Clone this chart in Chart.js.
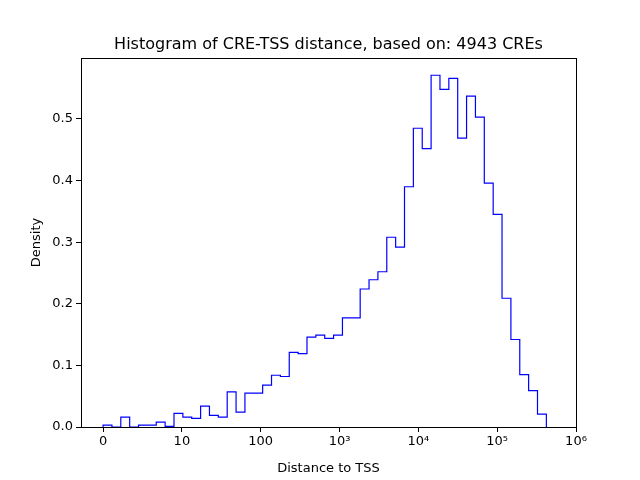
<!DOCTYPE html>
<html><head><meta charset="utf-8">
<script src="https://cdn.jsdelivr.net/npm/chart.js@4"></script>
<style>html,body{margin:0;padding:0;background:#fff}#c{display:block}</style>
</head><body>
<canvas id="c" width="640" height="480"></canvas>
<script>
// Histogram densities (50 bins, equal width in symlog display units)
const densities = [0.003,0,0.016,0,0.003,0.003,0.008,0.001,0.022,0.016,
0.014,0.034,0.019,0.016,0.057,0.024,0.055,0.055,0.068,0.084,
0.082,0.121,0.119,0.146,0.149,0.144,0.149,0.177,0.177,0.224,
0.239,0.252,0.308,0.292,0.390,0.485,0.452,0.571,0.548,0.566,
0.469,0.537,0.503,0.396,0.345,0.209,0.142,0.085,0.059,0.021];
const binStart = 0, binEnd = 5.624; // display units (symlog, linthresh 10)
const xTickLabels = ['0','10','100','10³','10⁴','10⁵','10⁶'];
const yTicks = [0,0.1,0.2,0.3,0.4,0.5];

const n = densities.length, w = (binEnd-binStart)/n;
const pts = [];
let prev = 0;
densities.forEach((v,i)=>{const e=binStart+i*w;pts.push({x:e,y:prev});pts.push({x:e,y:v});prev=v;});
pts.push({x:binEnd,y:prev});
pts.push({x:binEnd,y:0});

const F = "'DejaVu Sans', sans-serif";
const frame = {id:'frame',afterDraw(ch){const a=ch.chartArea,c=ch.ctx;c.save();c.strokeStyle='#000';c.lineWidth=1;
c.strokeRect(Math.round(a.left)+0.5,Math.round(a.top)+0.5,Math.round(a.right-a.left),Math.round(a.bottom-a.top));
c.fillStyle='#000';c.font="16px "+F;c.textAlign='center';c.textBaseline='alphabetic';
c.fillText('Histogram of CRE-TSS distance, based on: 4943 CREs',(a.left+a.right)/2,a.top-9);
c.font="13px "+F;c.translate(40,(a.top+a.bottom)/2);c.rotate(-Math.PI/2);c.fillText('Density',0,0);
c.restore();}};

new Chart(document.getElementById('c'),{
type:'line',
data:{datasets:[{data:pts,borderColor:'#0000ff',borderWidth:1.2,pointRadius:0,fill:false,tension:0}]},
options:{responsive:false,animation:false,
layout:{padding:{top:58,right:64,left:0,bottom:0}},
plugins:{legend:{display:false},tooltip:{enabled:false}},
scales:{
x:{type:'linear',min:-0.28,max:6,
 afterBuildTicks(s){s.ticks=xTickLabels.map((l,i)=>({value:i}));},
 ticks:{color:'#000',font:{family:F,size:13},maxRotation:0,padding:2,callback:(v)=>xTickLabels[v]},
 grid:{drawOnChartArea:false,tickLength:5,color:'#000'},border:{color:'#000'},
 title:{display:true,text:'Distance to TSS',color:'#000',font:{family:F,size:13},padding:{top:2}},
 afterFit(s){s.height=53;}},
y:{type:'linear',min:0,max:0.599,
 afterBuildTicks(s){s.ticks=yTicks.map(v=>({value:v}));},
 ticks:{color:'#000',font:{family:F,size:13},padding:3,callback:(v)=>v===0?'0.0':String(v)},
 grid:{drawOnChartArea:false,tickLength:5,color:'#000'},border:{color:'#000'},
 title:{display:false},
 afterFit(s){s.width=81;}}
}},plugins:[frame]});
</script></body></html>
